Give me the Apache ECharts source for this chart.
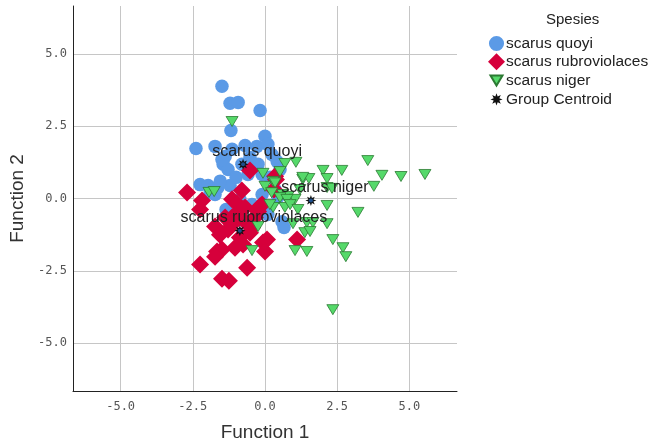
<!DOCTYPE html>
<html>
<head>
<meta charset="utf-8">
<script src="https://cdn.jsdelivr.net/npm/echarts@6/dist/echarts.min.js"></script>
<style>
html,body{margin:0;padding:0;background:#fff;}
#main{width:657px;height:445px;}
</style>
</head>
<body>
<div id="main"></div>
<script>
// ---- data (discriminant function scores) ----
const seriesNames = ['scarus quoyi', 'scarus rubroviolaces', 'scarus niger', 'Group Centroid'];
const tickValues = [-5, -2.5, 0, 2.5, 5];

const quoyi = [
  [-1.49,3.88],[-1.21,3.29],[-0.93,3.32],[-0.17,3.04],[-1.18,2.35],[0.00,2.15],
  [-2.39,1.73],[-1.73,1.80],[-0.69,1.83],[-0.28,1.80],[0.10,1.87],[-1.38,1.45],
  [-1.45,1.18],[-1.28,1.00],[0.42,1.28],[0.52,1.00],[-2.25,0.48],[-1.97,0.45],
  [-1.63,0.38],[-1.21,0.45],[-1.00,0.73],[-0.59,0.83],[-0.24,1.18],[-0.52,1.42],
  [-0.10,0.83],[0.17,0.73],[-0.87,-0.03],[-0.45,-0.21],[-0.10,0.14],[0.35,0.31],
  [0.59,-0.80],[0.66,-1.00],[-1.35,-0.38],[-0.87,-0.55],[-0.52,-1.07],[-1.73,0.14],
  [-1.49,1.35],[-0.80,1.18],[-1.14,1.70],[0.24,1.52],[-1.90,0.21],[0.10,-0.55],
  [-1.55,0.60],[0.45,0.05]
];

const rubroviolaces = [
  [-2.70,0.21],[-2.18,-0.07],[-2.25,-0.38],[-0.80,0.28],[-1.14,-0.03],[-0.97,-0.17],
  [-0.52,0.97],[0.35,0.77],[0.38,0.66],[0.31,0.31],[-0.10,-0.21],[-1.73,-0.97],
  [-1.28,-1.07],[-0.87,-1.35],[-0.52,-1.18],[-0.07,-1.52],[0.07,-1.42],[-0.76,-1.59],
  [0.00,-1.83],[-1.66,-1.83],[-1.49,-1.76],[-1.73,-2.01],[-2.25,-2.28],[-0.62,-2.39],
  [-1.49,-2.77],[-1.25,-2.84],[1.11,-1.42],[-1.04,-0.55],[-0.69,-0.80],[-0.35,-0.66],
  [-1.38,-0.66],[-1.14,-0.90],[-0.45,-1.00],[-0.24,-0.45],[-0.69,-0.31],[-1.56,-1.25],
  [-1.04,-1.70],[-0.17,-0.27]
];

const niger = [
  [0.69,1.21],[1.07,1.25],[3.56,1.31],[-0.07,0.87],[0.52,0.93],[2.01,0.97],
  [2.66,0.97],[4.05,0.80],[4.71,0.76],[5.54,0.83],[3.77,0.42],[1.31,0.66],
  [1.52,0.69],[2.15,0.69],[0.28,0.59],[1.21,0.31],[2.15,0.38],[2.32,0.35],
  [0.62,0.14],[0.80,0.07],[1.04,-0.03],[0.52,0.03],[0.76,-0.03],[2.15,-0.24],
  [0.28,-0.31],[0.69,-0.31],[3.22,-0.48],[-0.24,-0.97],[0.97,-0.87],[1.45,-0.83],
  [1.66,-0.83],[2.15,-0.87],[1.38,-1.18],[1.56,-1.14],[2.35,-1.42],[2.70,-1.70],
  [2.80,-2.01],[1.04,-1.80],[1.45,-1.83],[-0.45,-1.80],[2.35,-3.84],[-1.14,2.66],
  [-1.94,0.21],[-1.76,0.24],[1.31,0.73],[0.17,-0.21],[0.87,-0.21],[1.14,-0.38],
  [0.00,0.42],[0.23,0.20],[0.35,0.54]
];

const centroidNames = ['scarus quoyi', 'scarus rubroviolaces', 'scarus niger'];
const centroidX = [-0.76, -0.87, 1.59];
const centroidY = [1.18, -1.11, -0.07];

// ---- styling helpers ----
function starPath(n, r1, r2, pad) {
  let parts = [];
  if (pad) parts.push('M' + (-pad) + ',' + (-pad) + ' M' + pad + ',' + pad);
  for (let i = 0; i < 2 * n; i++) {
    const a = i * Math.PI / n - Math.PI / 2;
    const r = i % 2 ? r2 : r1;
    parts.push((i ? 'L' : 'M') + (r * Math.cos(a)).toFixed(2) + ',' + (r * Math.sin(a)).toFixed(2));
  }
  return 'path://' + parts.join(' ') + ' Z';
}
const STAR = starPath(8, 10, 5, 0);
const STAR_LEGEND = starPath(8, 10, 5, 14);
const DOWN_TRI = 'path://M0,0 L12,0 L6,10 Z';
const DOWN_TRI_LEGEND = 'path://M-2.5,-3 M14.5,13 M0,0 L12,0 L6,10 Z';
const CIRCLE_LEGEND = 'path://M-1,-1 M17,17 M0,8 A8,8 0 1,1 16,8 A8,8 0 1,1 0,8 Z';
const FONT = '"Liberation Sans", Arial, Helvetica, sans-serif';

const centroids = centroidNames.map((n, i) => ({ name: n, value: [centroidX[i], centroidY[i]] }));

const chart = echarts.init(document.getElementById('main'), null, { renderer: 'canvas' });

const axisCommon = {
  type: 'value',
  min: -6.65,
  max: 6.65,
  axisLine: { show: true, onZero: false, lineStyle: { color: '#222', width: 1 } },
  axisTick: { show: false, customValues: tickValues },
  axisLabel: {
    customValues: tickValues,
    formatter: v => Number(v).toFixed(1),
    fontFamily: '"DejaVu Sans Mono", monospace',
    fontSize: 12,
    color: '#555'
  },
  splitLine: { show: true, lineStyle: { color: '#c6c6c6', width: 1 } },
  nameLocation: 'middle',
  nameTextStyle: { fontFamily: FONT, fontSize: 19, color: '#333' }
};

chart.setOption({
  animation: false,
  backgroundColor: '#fff',
  textStyle: { fontFamily: FONT },
  grid: { left: 73, right: 200, top: 6, bottom: 54, containLabel: false, outerBoundsMode: 'none' },
  title: {
    text: 'Spesies',
    left: 546, top: 12,
    padding: 0,
    textStyle: { fontFamily: FONT, fontSize: 15, fontWeight: 'normal', color: '#222' }
  },
  legend: {
    orient: 'vertical',
    left: 487, top: 35,
    padding: 0,
    itemWidth: 17, itemHeight: 17, itemGap: 1.3,
    textStyle: { fontFamily: FONT, fontSize: 15.5, color: '#222', lineHeight: 17, padding: [0, 0, 0, -4] },
    data: [
      { name: seriesNames[0], icon: CIRCLE_LEGEND },
      { name: seriesNames[1] },
      { name: seriesNames[2], icon: DOWN_TRI_LEGEND },
      { name: seriesNames[3], icon: STAR_LEGEND }
    ]
  },
  xAxis: Object.assign({}, axisCommon, { name: 'Function 1', nameGap: 32, axisLabel: Object.assign({}, axisCommon.axisLabel, { margin: 10 }) }),
  yAxis: Object.assign({}, axisCommon, { name: 'Function 2', nameGap: 45, axisLabel: Object.assign({}, axisCommon.axisLabel, { margin: 6 }) }),
  series: [
    {
      name: seriesNames[0], type: 'scatter', data: quoyi,
      symbol: 'circle', symbolSize: 13.5,
      itemStyle: { color: '#5b9ae6', opacity: 1 }, z: 2
    },
    {
      name: seriesNames[1], type: 'scatter', data: rubroviolaces,
      symbol: 'diamond', symbolSize: 18,
      itemStyle: { color: '#d6003b', opacity: 1 }, z: 3
    },
    {
      name: seriesNames[2], type: 'scatter', data: niger,
      symbol: DOWN_TRI, symbolSize: [12, 10],
      itemStyle: { color: '#55d96a', borderColor: '#2c7a33', borderWidth: 0.8, opacity: 1 }, z: 4
    },
    {
      name: seriesNames[3], type: 'scatter', data: centroids,
      symbol: STAR, symbolSize: 11,
      itemStyle: { color: '#111', opacity: 1 }, z: 6,
      label: {
        show: true, formatter: '{b}', position: 'inside', offset: [14, -13],
        fontFamily: FONT, fontSize: 16, color: '#222'
      }
    },
    {
      name: 'centroid-core', type: 'scatter', silent: true,
      data: centroidNames.map((n, i) => [centroidX[i], centroidY[i]]),
      symbol: 'circle', symbolSize: 4,
      itemStyle: { color: '#1d4f8c', opacity: 1 }, z: 7
    }
  ]
});
</script>
</body>
</html>
